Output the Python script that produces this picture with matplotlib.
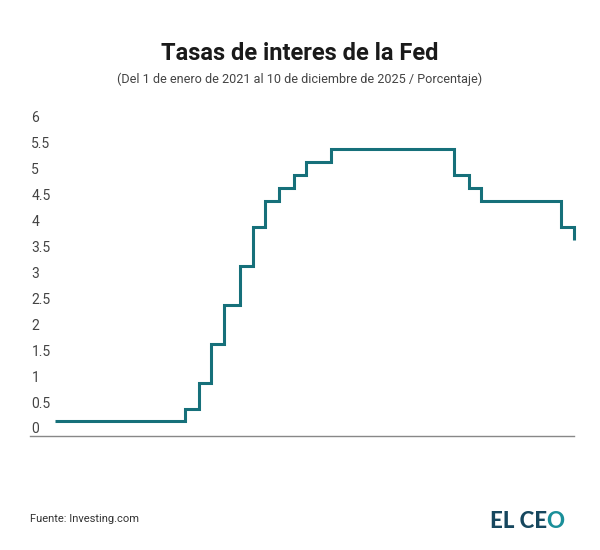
import matplotlib
matplotlib.use("Agg")
import matplotlib.pyplot as plt
import pandas as pd

plt.rcParams['font.family'] = ['Roboto', 'DejaVu Sans']

# Data: Fed rate (midpoint of target range), step changes
dates = ["2021-01-01", "2022-03-17", "2022-05-05", "2022-06-16", "2022-07-28",
         "2022-09-22", "2022-11-03", "2022-12-15", "2023-02-02", "2023-03-23",
         "2023-05-04", "2023-07-27", "2024-09-19", "2024-11-08", "2024-12-19",
         "2025-09-17", "2025-10-30"]
rates = [0.125, 0.375, 0.875, 1.625, 2.375, 3.125, 3.875, 4.375, 4.625, 4.875,
         5.125, 5.375, 4.875, 4.625, 4.375, 3.875, 3.625]
yticks = [0, 0.5, 1, 1.5, 2, 2.5, 3, 3.5, 4, 4.5, 5, 5.5, 6]
ytick_labels = ["0", "0.5", "1", "1.5", "2", "2.5", "3", "3.5", "4", "4.5", "5", "5.5", "6"]

x = pd.to_datetime(dates)

W, H = 600, 550
fig = plt.figure(figsize=(W / 100, H / 100), dpi=100)
ax = fig.add_axes([30 / W, (H - 436) / H, (574 - 30) / W, (436 - 117) / H])

ax.plot(x, rates, drawstyle="steps-post", color="#16707a", linewidth=2.2,
        solid_joinstyle="miter", solid_capstyle="butt", clip_on=False)

ax.set_ylim(-0.155, 6.0)
ax.set_xlim(x[0] - pd.Timedelta(days=85), x[-1])
ax.set_yticks(yticks)
ax.set_yticklabels(ytick_labels)
for lab in ax.get_yticklabels():
    lab.set_horizontalalignment("left")
ax.tick_params(axis="y", length=0, pad=-1, labelsize=10, labelcolor="#444444")
ax.tick_params(axis="x", length=0, labelbottom=False)
ax.set_xticks([])
for s in ["top", "right", "left"]:
    ax.spines[s].set_visible(False)
ax.spines["bottom"].set_color("#888888")
ax.spines["bottom"].set_linewidth(1.0)
ax.patch.set_alpha(0)

fig.text(0.5, 1 - 53 / H, "Tasas de interes de la Fed", ha="center", va="center",
         fontsize=17, fontweight="bold", color="#1a1a1a")
fig.text(0.5, 1 - 79 / H, "(Del 1 de enero de 2021 al 10 de diciembre de 2025 / Porcentaje)",
         ha="center", va="center", fontsize=9.1, color="#444444")
fig.text(30 / W, 1 - 519 / H, "Fuente: Investing.com", ha="left", va="center",
         fontsize=8, color="#333333")
t1 = fig.text(490 / W, 1 - 521 / H, "EL CE", ha="left", va="center",
              fontsize=16, fontweight="black", color="#16475e",
              family=["Lato", "DejaVu Sans"])
fig.canvas.draw()
bb = t1.get_window_extent()
fig.text((bb.x1 - 0.5) / W, 1 - 521 / H, "O", ha="left", va="center",
         fontsize=16, fontweight="black", color="#1a8f99",
         family=["Lato", "DejaVu Sans"])

fig.savefig("out.png", dpi=100)
